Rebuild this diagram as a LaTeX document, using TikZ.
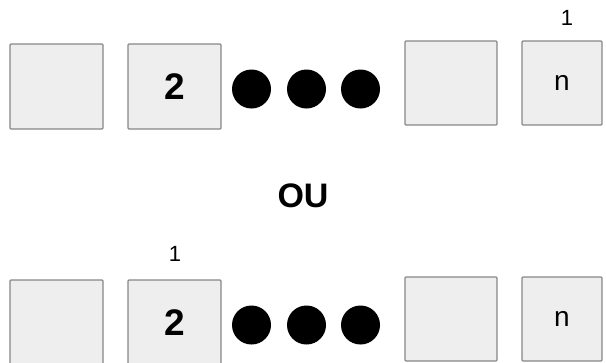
\documentclass[tikz,border=0pt]{standalone}
\usepackage{fontspec}
\setmainfont{Liberation Sans}
\definecolor{boxfill}{RGB}{238,238,238}
\definecolor{boxline}{RGB}{135,135,135}
\begin{document}
\begin{tikzpicture}[x=1bp,y=-1bp,
  cell/.style={draw=boxline, fill=boxfill, line width=1.2bp, rounded corners=1bp,
               inner sep=0pt, minimum height=85bp, minimum width=93bp},
  dotmark/.style={circle, fill=black, minimum size=39bp, inner sep=0pt},
  lbl/.style={font=\fontsize{22bp}{22bp}\selectfont, inner sep=0pt},
  bignum/.style={font=\fontsize{37bp}{37bp}\selectfont\bfseries},
  ntext/.style={font=\fontsize{28bp}{28bp}\selectfont}]
\useasboundingbox (0,0) rectangle (606,362);
\clip (0,0) rectangle (606,362);
% top row
\node[cell] (a1) at (56.5,86.5) {};
\node[cell, bignum] (a2) at (174.5,86.5) {2};
\node[dotmark] (ad1) at (251.5,89) {};
\node[dotmark] (ad2) at (306.5,89) {};
\node[dotmark] (ad3) at (360.5,89) {};
\node[cell, minimum width=92bp, minimum height=84bp] (a3) at (451,83) {};
\node[cell, minimum width=80bp, minimum height=84bp, ntext] (a4) at (562,83) {n};
\node[lbl] (al) at (567,18) {1};
% middle
\node[font=\fontsize{34bp}{34bp}\selectfont\bfseries, inner sep=0pt] (ou) at (303,196) {OU};
% bottom row
\node[cell] (b1) at (56.5,322.5) {};
\node[cell, bignum] (b2) at (174.5,322.5) {2};
\node[dotmark] (bd1) at (251.5,325) {};
\node[dotmark] (bd2) at (306.5,325) {};
\node[dotmark] (bd3) at (360.5,325) {};
\node[cell, minimum width=92bp, minimum height=84bp] (b3) at (451,319) {};
\node[cell, minimum width=80bp, minimum height=84bp, ntext] (b4) at (562,319) {n};
\node[lbl] (bl) at (175,254) {1};
\end{tikzpicture}
\end{document}
